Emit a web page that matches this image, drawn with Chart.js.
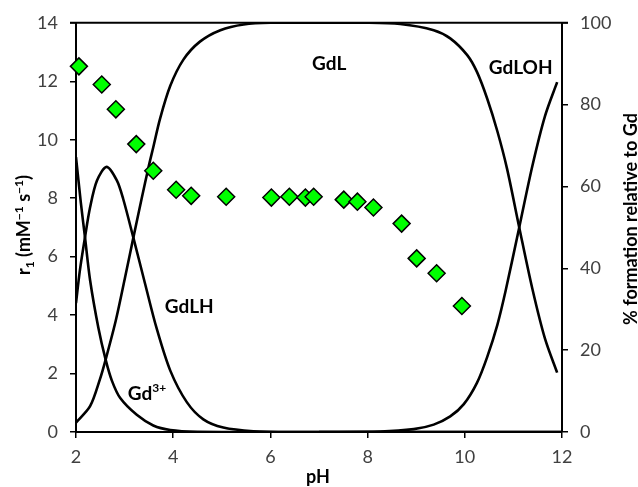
<!DOCTYPE html>
<html>
<head>
<meta charset="utf-8">
<title>Relaxivity and speciation vs pH</title>
<script src="https://cdn.jsdelivr.net/npm/chart.js"></script>
<style>
  html, body { margin: 0; padding: 0; background: #fff; }
  #wrap { width: 638px; height: 487px; position: relative; }
</style>
</head>
<body>
<div id="wrap"><canvas id="chart"></canvas></div>
<script>
// relaxivity points (left axis)
const r1pH  = [2.06, 2.53, 2.82, 3.24, 3.59, 4.06, 4.37, 5.09, 6.02, 6.39, 6.72, 6.89, 7.51, 7.79, 8.12, 8.70, 9.01, 9.42, 9.94];
const r1Val = [12.51, 11.89, 11.04, 9.85, 8.94, 8.29, 8.08, 8.05, 8.02, 8.05, 8.02, 8.05, 7.95, 7.88, 7.68, 7.13, 5.94, 5.43, 4.31];

// species distribution (right axis, %)
const gdPH  = [2.0, 2.1, 2.185, 2.29, 2.46, 2.61, 2.74, 2.91, 3.25, 3.59, 3.94, 4.5, 5.5, 8, 12];
const gdPct = [67.2, 56, 47.6, 37.1, 25.5, 17.7, 12.5, 8.3, 4.2, 1.6, 0.5, 0.05, 0, 0, 0];

const gdlhPH  = [2.0, 2.08, 2.185, 2.29, 2.43, 2.63, 2.84, 2.97, 3.18, 3.42, 3.66, 3.94, 4.28, 4.62, 5.03, 5.65, 6.5, 9, 12];
const gdlhPct = [31.5, 39.5, 47.6, 54.9, 61.4, 64.8, 61.5, 57.0, 47.5, 36.3, 25.3, 15.0, 7.3, 3.1, 1.1, 0.2, 0, 0, 0];

const gdlPH  = [2.0, 2.29, 2.49, 2.61, 2.82, 3.01, 3.18, 3.35, 3.49, 3.59, 3.73, 3.94, 4.21, 4.55, 4.97, 5.45, 6.0, 8.0, 8.67, 9.36, 9.70, 10.05, 10.25, 10.46, 10.67, 10.87, 11.12, 11.39, 11.65, 11.9];
const gdlPct = [2.3, 6.3, 12.8, 17.7, 27.3, 37.8, 47.5, 57.0, 64.6, 69.6, 76.6, 84.6, 91.0, 95.4, 98.2, 99.6, 100, 100, 99.7, 98.2, 96.2, 92.1, 88.0, 81.5, 73.5, 64.3, 50, 35.0, 22.8, 14.5];

const gdlohPH  = [7.0, 8.26, 8.95, 9.36, 9.70, 9.98, 10.25, 10.46, 10.67, 10.84, 11.12, 11.39, 11.65, 11.9];
const gdlohPct = [0, 0.1, 0.7, 1.8, 3.8, 6.8, 12, 18.3, 26.2, 34.5, 50, 65.0, 77.2, 85.5];

function pts(xs, ys) {
  return xs.map((v, i) => ({ x: v, y: ys[i] }));
}

function curve(xs, ys) {
  return {
    type: 'line',
    data: pts(xs, ys),
    yAxisID: 'y1',
    borderColor: '#000',
    borderWidth: 2.6,
    pointRadius: 0,
    fill: false,
    tension: 0.3
  };
}

// draw a run of text pieces (with sub/superscripts) centred on 0 along the baseline
function richText(ctx, parts) {
  let total = 0;
  parts.forEach(p => { ctx.font = p.f; total += ctx.measureText(p.t).width; });
  let cx = -total / 2;
  parts.forEach(p => {
    ctx.font = p.f;
    ctx.fillText(p.t, cx, p.dy || 0);
    cx += ctx.measureText(p.t).width;
  });
}

const extras = {
  id: 'extras',
  afterDraw(chart) {
    const ctx = chart.ctx, a = chart.chartArea;
    const sx = chart.scales.x, sy = chart.scales.y1;
    ctx.save();
    ctx.strokeStyle = '#000';
    ctx.lineWidth = 2;
    ctx.beginPath();
    ctx.moveTo(a.left - 6, a.top);
    ctx.lineTo(a.right + 6, a.top);
    ctx.stroke();

    ctx.fillStyle = '#000';
    ctx.textAlign = 'left';
    ctx.textBaseline = 'alphabetic';
    const big = 'bold 19px Lato', small = 'bold 12px Lato';

    // species names
    function put(px, py, parts) {
      ctx.save();
      ctx.translate(sx.getPixelForValue(px), sy.getPixelForValue(py));
      richText(ctx, parts);
      ctx.restore();
    }
    put(7.21, 88.5, [{ t: 'GdL', f: big }]);
    put(11.15, 87.5, [{ t: 'GdLOH', f: big }]);
    put(4.33, 29, [{ t: 'GdLH', f: big }]);
    put(3.46, 7.8, [{ t: 'Gd', f: big }, { t: '3+', f: small, dy: -8 }]);

    // x title
    ctx.save();
    ctx.translate(318, 483);
    richText(ctx, [{ t: 'pH', f: 'bold 18px Lato' }]);
    ctx.restore();

    // left title
    const tf = 'bold 18px Lato', sf = 'bold 12px Lato';
    ctx.save();
    ctx.translate(30, 225);
    ctx.rotate(-Math.PI / 2);
    richText(ctx, [
      { t: 'r', f: tf }, { t: '1', f: sf, dy: 4 },
      { t: ' (mM', f: tf }, { t: '\u22121', f: sf, dy: -7 },
      { t: ' s', f: tf }, { t: '\u22121', f: sf, dy: -7 },
      { t: ')', f: tf }
    ]);
    ctx.restore();

    // right title
    ctx.save();
    ctx.translate(637, 219);
    ctx.rotate(-Math.PI / 2);
    richText(ctx, [{ t: '% formation relative to Gd', f: 'bold 18px Lato' }]);
    ctx.restore();
    ctx.restore();
  }
};

const tickFont = { family: 'Lato', size: 18 };
const axisGrid = { drawOnChartArea: false, color: '#000', lineWidth: 1.5, tickLength: 6 };
const axisBorder = { color: '#000', width: 2 };

new Chart(document.getElementById('chart'), {
  data: {
    datasets: [
      {
        type: 'scatter',
        label: 'r1',
        data: pts(r1pH, r1Val),
        yAxisID: 'y',
        pointStyle: 'rectRot',
        pointRadius: 8.5,
        pointBackgroundColor: '#00ff00',
        pointBorderColor: '#000',
        pointBorderWidth: 1.5,
        clip: false
      },
      curve(gdPH, gdPct),
      curve(gdlhPH, gdlhPct),
      curve(gdlPH, gdlPct),
      curve(gdlohPH, gdlohPct)
    ]
  },
  options: {
    responsive: true,
    maintainAspectRatio: false,
    animation: false,
    layout: { padding: { top: 21, left: 0, right: 0, bottom: 0 } },
    plugins: { legend: { display: false }, tooltip: { enabled: false } },
    scales: {
      x: {
        type: 'linear', min: 2, max: 12,
        ticks: { stepSize: 2, color: '#404040', font: tickFont, padding: 8 },
        grid: axisGrid, border: axisBorder,
        afterFit(s) { s.height = 55; }
      },
      y: {
        position: 'left', min: 0, max: 14,
        ticks: { stepSize: 2, color: '#404040', font: tickFont, padding: 12 },
        grid: axisGrid, border: axisBorder,
        afterFit(s) { s.width = 76; }
      },
      y1: {
        position: 'right', min: 0, max: 100,
        ticks: { stepSize: 20, color: '#404040', font: tickFont, padding: 12 },
        grid: axisGrid, border: axisBorder,
        afterFit(s) { s.width = 76; }
      }
    }
  },
  plugins: [extras]
});
</script>
</body>
</html>
